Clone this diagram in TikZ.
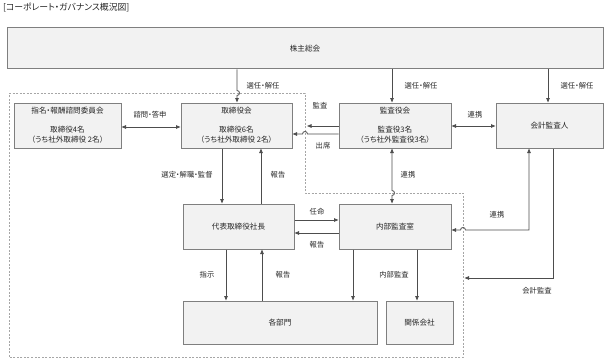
\documentclass[tikz,border=0pt]{standalone}
\usepackage{fontspec}
\setmainfont[RawFeature=+palt]{Noto Sans CJK JP}
\usetikzlibrary{arrows.meta}
\definecolor{boxfill}{HTML}{F2F2F2}
\definecolor{boxline}{HTML}{7F7F7F}
\definecolor{connc}{HTML}{4D4D4D}
\definecolor{dashc}{HTML}{A6A6A6}
\definecolor{txt}{HTML}{262626}
\begin{document}
\begin{tikzpicture}[x=1pt,y=-1pt,
  box/.style={draw=boxline, fill=boxfill, line width=1pt, inner sep=0pt, text=txt,
    font=\fontsize{7.6}{10}\selectfont, align=center},
  conn/.style={draw=connc, line width=0.8pt},
  tip/.style={-{Triangle[length=4.5pt,width=3.5pt]}},
  dtip/.style={{Triangle[length=4.5pt,width=3.5pt]}-{Triangle[length=4.5pt,width=3.5pt]}},
  lbl/.style={text=txt, font=\fontsize{7.3}{8}\selectfont, inner sep=0pt},
  boundary/.style={draw=dashc, line width=0.8pt, dash pattern=on 2pt off 1.5pt}]
\useasboundingbox (0,0) rectangle (608,361);

% title
\node[lbl, anchor=west, font=\fontsize{8.8}{10}\selectfont] (title) at (3,8) {[コーポレート・ガバナンス概況図]};

% company boundary
\draw[boundary] (9,93) -- (305,93) -- (305,193) -- (463,193) -- (463,357) -- (9,357) -- cycle;
\coordinate (edgeA) at (307,126);
\coordinate (edgeB) at (464.5,278);

% nodes
\node[box, minimum width=596pt, minimum height=41pt] (kabu) at (305,48.5) {株主総会};
\node[box, minimum width=107pt, minimum height=45pt] (shimei) at (67.5,125.5)
  {指名・報酬諮問委員会\\[9pt]取締役4名\\（うち社外取締役 2名）};
\node[box, minimum width=111pt, minimum height=45pt] (tori) at (236.5,125.5)
  {取締役会\\[9pt]取締役6名\\（うち社外取締役 2名）};
\node[box, minimum width=112pt, minimum height=45pt] (kansa) at (395,125.5)
  {監査役会\\[9pt]監査役3名\\（うち社外監査役3名）};
\node[box, minimum width=107pt, minimum height=45pt] (kaikei) at (549.5,125.5) {会計監査人};
\node[box, minimum width=111pt, minimum height=45pt] (daihyo) at (238.5,226.5) {代表取締役社長};
\node[box, minimum width=112pt, minimum height=45pt] (naibu) at (395,226.5) {内部監査室};
\node[box, minimum width=194pt, minimum height=43pt] (kakubu) at (280,322.5) {各部門};
\node[box, minimum width=67pt, minimum height=43pt] (kankei) at (419.5,322.5) {関係会社};

% helper coordinates
\coordinate (x222) at (222,0);
\coordinate (x226) at (226,0);
\coordinate (x237) at (237,0);
\coordinate (x261) at (261,0);
\coordinate (x262) at (262,0);
\coordinate (x353) at (353,0);
\coordinate (x392) at (392,0);
\coordinate (x417) at (417,0);
\coordinate (x529) at (529,0);
\coordinate (x548) at (548,0);
\coordinate (x553) at (553,0);
\coordinate (y126) at (0,126);
\coordinate (y127) at (0,127);
\coordinate (y134) at (0,134);
\coordinate (y220) at (0,220);
\coordinate (y230) at (0,230);
\coordinate (y233) at (0,233);

% shareholders -> boards
\draw[conn,tip] (kabu.south -| x237) -- (237,90.5) .. controls (240.3,90.5) and (240.3,95.5) .. (237,95.5) -- (tori.north -| x237);
\draw[conn,tip] (kabu.south -| x392) -- (kansa.north -| x392);
\draw[conn,tip] (kabu.south -| x548) -- (kaikei.north -| x548);
\node[lbl] (l1) at (263,86) {選任・解任};
\node[lbl] (l2) at (421,86) {選任・解任};
\node[lbl] (l3) at (577,86) {選任・解任};

% advisory
\draw[conn,dtip] (shimei.east |- y127) -- (tori.west |- y127);
\node[lbl] (l4) at (150,115) {諮問・答申};

% kansa <-> kaikei
\draw[conn,dtip] (kansa.east |- y126) -- (kaikei.west |- y126);
\node[lbl] (l5) at (475,115) {連携};

% audit / attendance
\draw[conn,tip] (kansa.west |- y126) -- (edgeA);
\node[lbl] (l6) at (320,106) {監査};
\draw[conn,tip] (kansa.west |- y134) -- (307.5,134) .. controls (307.5,130.7) and (302.5,130.7) .. (302.5,134) -- (tori.east |- y134);
\node[lbl] (l7) at (323,146) {出席};

% board <-> president
\draw[conn,tip] (tori.south -| x222) -- (daihyo.north -| x222);
\draw[conn,tip] (daihyo.north -| x261) -- (tori.south -| x261);
\node[lbl] (l8) at (187,175) {選定・解職・監督};
\node[lbl] (l9) at (278,175) {報告};

% kansa <-> naibu
\draw[conn,dtip] (kansa.south -| x392) -- (392,190.5) .. controls (395.3,190.5) and (395.3,195.5) .. (392,195.5) -- (naibu.north -| x392);
\node[lbl] (l10) at (408,175) {連携};

% president <-> internal audit
\draw[conn,tip] (daihyo.east |- y220) -- (naibu.west |- y220);
\draw[conn,tip] (naibu.west |- y233) -- (daihyo.east |- y233);
\node[lbl] (l11) at (317,212) {任命};
\node[lbl] (l12) at (317,245) {報告};

% kaikei <-> naibu
\draw[conn,dtip] (kaikei.south -| x529) -- (529,230) -- (465.5,230) .. controls (465.5,226.7) and (460.5,226.7) .. (460.5,230) -- (naibu.east |- y230);
\node[lbl] (l13) at (497,215) {連携};

% accounting audit
\draw[conn,tip] (kaikei.south -| x553) -- (553,278) -- (edgeB);
\node[lbl] (l14) at (537,291) {会計監査};

% president <-> departments
\draw[conn,tip] (daihyo.south -| x226) -- (kakubu.north -| x226);
\draw[conn,tip] (kakubu.north -| x262) -- (daihyo.south -| x262);
\node[lbl] (l15) at (207,275) {指示};
\node[lbl] (l16) at (283,275) {報告};

% internal audit -> departments / affiliates
\draw[conn,tip] (naibu.south -| x353) -- (kakubu.north -| x353);
\draw[conn,tip] (naibu.south -| x417) -- (kankei.north -| x417);
\node[lbl] (l17) at (394,275) {内部監査};
\end{tikzpicture}
\end{document}
